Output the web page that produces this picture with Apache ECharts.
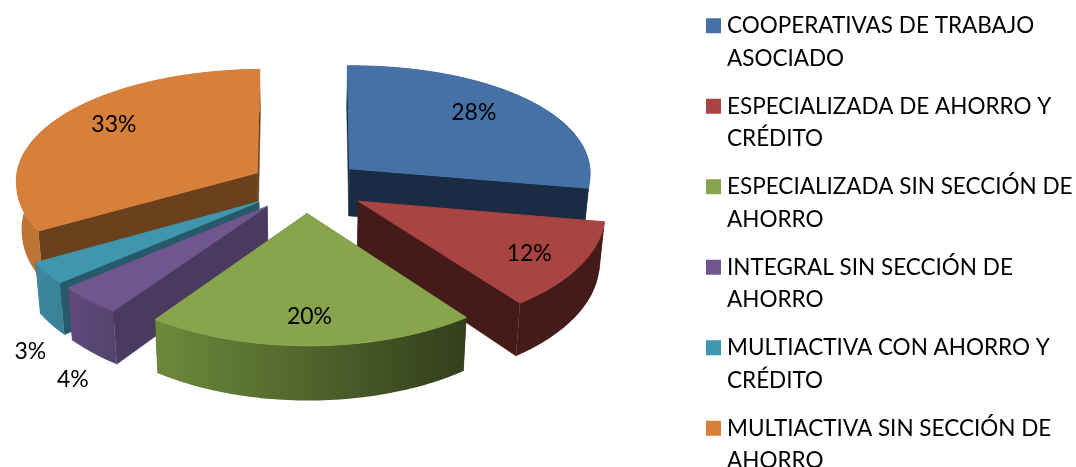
<!DOCTYPE html>
<html>
<head>
<meta charset="utf-8">
<style>html,body{margin:0;padding:0;background:#fff}#c{width:1076px;height:467px}</style>
<script src="https://cdn.jsdelivr.net/npm/echarts@6/dist/echarts.min.js"></script>
</head>
<body>
<div id="c"></div>
<script>
// Data
const categories = [
  'COOPERATIVAS DE TRABAJO\nASOCIADO',
  'ESPECIALIZADA DE AHORRO Y\nCRÉDITO',
  'ESPECIALIZADA SIN SECCIÓN DE\nAHORRO',
  'INTEGRAL SIN SECCIÓN DE\nAHORRO',
  'MULTIACTIVA CON AHORRO Y\nCRÉDITO',
  'MULTIACTIVA SIN SECCIÓN DE\nAHORRO'
];
const shares = [28, 12, 20, 4, 3, 33];

// Styles
const topColors = ['#4571A6', '#A84442', '#88A44D', '#71568E', '#4096AE', '#D6803C'];
const radialColors = ['#1A2C44', '#451B1A', '#35401C', '#4B3A60', '#26596A', '#6B401C'];
const outerLeft = ['#1A2C44', '#451B1A', '#6C8A3C', '#5F4A7B', '#3C889F', '#BE7434'];
const outerRight = ['#1A2C44', '#451B1A', '#333E1B', '#55426E', '#3A8196', '#BE7434'];
const drawOrder = [0, 5, 4, 3, 1, 2];
const explode = [0.235, 0.25, 0.235, 0.235, 0.235, 0.235];
// Label placement: radial fraction, depth plane, pixel nudge
const labelRadius = [0.72, 0.78, 0.76, 1.0, 1.0, 0.75];
const labelDepth = [0, 0, 0, 1, 1, 0];
const labelNudge = [[-5, -6], [0, 2], [-1, 5], [-20, 27], [-21, 27], [8, -8]];

// 3D projection settings
const CX = 306, CY = 186, R = 242, A = 115, K = 0.09, KX = 0.05, DEPTH = 48, KD = 0.1;
const total = shares.reduce((a, b) => a + b, 0);

function proj(x, y, z) {
  return [
    CX + (R * x / (1 - KX * y) + Math.max(y, 0) * (9 * x + 4.5)) * (1 - 0.018 * z),
    CY + A * y / (1 - K * y) - 1.8 * x + z * DEPTH / (1 - KD * y)
  ];
}

function sliceItem(i) {
  return function (params, api) {
    const before = shares.slice(0, i).reduce((a, b) => a + b, 0);
    const a0 = before / total * Math.PI * 2;
    const a1 = (before + api.value(0)) / total * Math.PI * 2;
    const mid = (a0 + a1) / 2;
    const ex = explode[i] * Math.sin(mid), ey = -explode[i] * Math.cos(mid);
    const at = (ang, r, z) => proj(ex + r * Math.sin(ang), ey - r * Math.cos(ang), z);
    const arcTop = [], arcBot = [];
    const n = Math.max(2, Math.ceil((a1 - a0) / 0.02));
    for (let k = 0; k <= n; k++) {
      const ang = a0 + (a1 - a0) * k / n;
      arcTop.push(at(ang, 1, 0));
      arcBot.push(at(ang, 1, 1));
    }
    const apexT = at(0, 0, 0), apexB = at(0, 0, 1);
    const grad = new echarts.graphic.LinearGradient(0, 0, 1, 0, [
      { offset: 0, color: outerLeft[i] }, { offset: 1, color: outerRight[i] }
    ]);
    const children = [
      { type: 'polygon', shape: { points: [apexT, arcTop[0], arcBot[0], apexB] }, style: { fill: radialColors[i], stroke: radialColors[i], lineWidth: 0.4 } },
      { type: 'polygon', shape: { points: [apexT, arcTop[n], arcBot[n], apexB] }, style: { fill: radialColors[i], stroke: radialColors[i], lineWidth: 0.4 } },
      { type: 'polygon', shape: { points: arcTop.concat(arcBot.slice().reverse()) }, style: { fill: grad } },
      { type: 'polygon', shape: { points: [apexT].concat(arcTop) }, style: { fill: topColors[i], stroke: topColors[i], lineWidth: 1 } }
    ];
    const lp = at(mid, labelRadius[i], labelDepth[i]);
    children.push({
      type: 'text', z2: 100,
      x: lp[0] + labelNudge[i][0], y: lp[1] + labelNudge[i][1],
      style: { text: api.value(0) + '%', fill: '#000', fontFamily: 'Lato, sans-serif', fontSize: 23, align: 'center', verticalAlign: 'middle' }
    });
    return { type: 'group', children };
  };
}

const chart = echarts.init(document.getElementById('c'), null, { renderer: 'canvas' });
chart.setOption({
  animation: false,
  backgroundColor: '#fff',
  legend: {
    orient: 'vertical',
    left: 701,
    top: -28,
    height: 600,
    itemWidth: 15,
    itemHeight: 15,
    itemGap: -17,
    icon: 'rect',
    selectedMode: false,
    data: categories,
    formatter: name => '\n' + name,
    textStyle: { fontFamily: 'Lato, sans-serif', fontSize: 22.5, lineHeight: 32.5, color: '#000', padding: [0, 0, 0, 1] }
  },
  series: drawOrder.map(i => ({
    type: 'custom',
    name: categories[i],
    coordinateSystem: 'none',
    silent: true,
    itemStyle: { color: topColors[i] },
    renderItem: sliceItem(i),
    data: [[shares[i]]]
  }))
});
</script>
</body>
</html>
